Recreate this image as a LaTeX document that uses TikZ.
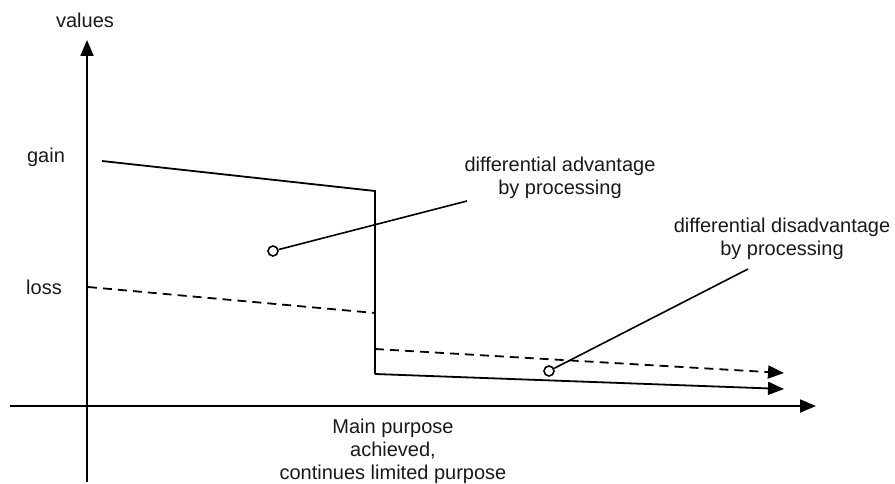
\documentclass[tikz,border=0pt]{standalone}
\usepackage{fontspec}
\setmainfont{Liberation Sans}
\usetikzlibrary{arrows.meta}
\begin{document}
\begin{tikzpicture}[x=1pt,y=-1pt,
  line width=1.8pt,
  lbl/.style={font=\fontsize{20}{23}\selectfont, inner sep=0pt, align=center, text=black!90},
  tip/.style={-{Triangle[length=16pt,width=13pt]}},
  dsh/.style={dash pattern=on 9pt off 6pt},
  ring/.style={circle, draw, fill=white, line width=1.6pt, minimum size=10pt, inner sep=0pt},
  lead/.style={line width=1.6pt}]
\useasboundingbox (0,0) rectangle (895,484);

% axes
\coordinate (yb) at (87,482);
\coordinate (yt) at (87,40);
\coordinate (xl) at (10,406);
\coordinate (xr) at (816,406);
\draw[tip] (yb) -- (yt);
\draw[tip] (xl) -- (xr);

% axis labels
\node[lbl] (values) at (85,20) {values};
\node[lbl] (gain) at (46,157) {gain};
\node[lbl] (loss) at (44,287) {loss};
\node[lbl] (purpose) at (393,451) {Main purpose\\achieved,\\continues limited purpose};

% value of gain (solid)
\coordinate (g0) at (102,161);
\coordinate (g1) at (375,191);
\coordinate (g2) at (375,374);
\coordinate (g3) at (784,389);
\draw (g0) -- (g1) -- (g2);
\draw[tip] (g2) -- (g3);

% value of loss (dashed)
\coordinate (l0) at (88,287);
\coordinate (l1) at (375,313);
\coordinate (l2) at (375,349);
\coordinate (l3) at (784,373);
\draw[dsh] (l0) -- (l1) -- (l2);
\draw[dsh,tip] (l2) -- (l3);

% annotations
\node[lbl] (adv) at (560,178) {differential advantage\\by processing};
\coordinate (advend) at (467,201);
\node[ring] (adot) at (273,251) {};
\draw[lead] (adot) -- (advend);

\node[lbl] (dis) at (782,239) {differential disadvantage\\by processing};
\coordinate (disend) at (748,269);
\node[ring] (ddot) at (549,371) {};
\draw[lead] (ddot) -- (disend);
\end{tikzpicture}
\end{document}
